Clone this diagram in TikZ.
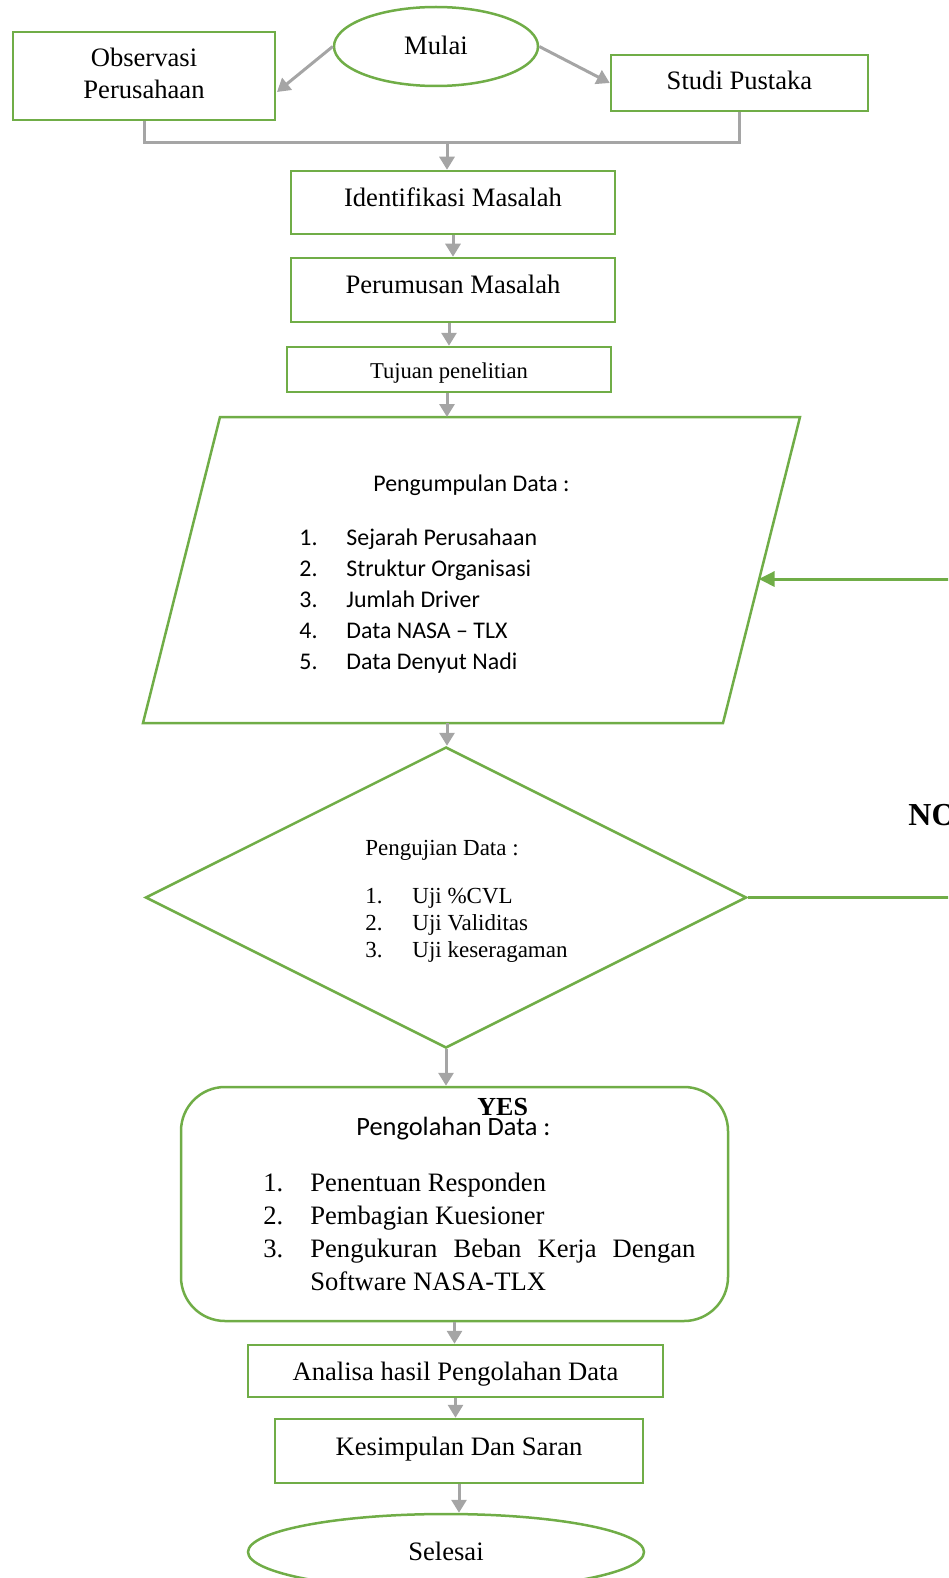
\documentclass[tikz,border=0pt]{standalone}
\usepackage{fontspec}
\setmainfont{Liberation Serif}
\newfontfamily\calfont{Carlito}
\usetikzlibrary{arrows.meta,shapes.geometric,calc}
\definecolor{gr}{HTML}{70AD47}
\definecolor{gy}{HTML}{A5A5A5}
\begin{document}
\begin{tikzpicture}[x=0.5pt,y=-0.5pt,
  tm/.style={font=\fontsize{13.3pt}{16pt}\selectfont},
  box/.style={draw=gr, line width=1.25pt, rectangle, inner sep=0pt, text height=9pt, tm},
  ell/.style={draw=gr, line width=1.25pt, ellipse, inner sep=0pt, text height=9pt, tm},
  shp/.style={draw=gr, line width=1.25pt, inner sep=0pt},
  txt/.style={inner sep=0pt, anchor=base west},
  gl/.style={draw=gy, line width=1.5pt},
  ga/.style={draw=gy, line width=1.5pt, -{Triangle[length=6.5pt,width=7.5pt]}},
  na/.style={draw=gr, line width=1.5pt, -{Triangle[length=8pt,width=7.5pt]}}]
\useasboundingbox (0,0) rectangle (948,1578);
\clip (0,0) rectangle (948,1578);

% top row
\node[ell, minimum width=102pt, minimum height=39.5pt, text depth=0.5pt] (mulai) at (436,46.5) {Mulai};
\node[box, minimum width=131pt, minimum height=44pt, text depth=18pt] (obs) at (144,76)
  {\begin{tabular}[t]{@{}c@{}}\fontsize{13.3pt}{16.5pt}\selectfont Observasi\\\fontsize{13.3pt}{16.5pt}\selectfont Perusahaan\end{tabular}};
\node[box, minimum width=128.5pt, minimum height=28pt, text depth=2pt] (studi) at (739.5,83) {Studi Pustaka};

\coordinate (oin) at (277,92);
\draw[ga] (mulai.west) -- (oin);
\draw[ga] (mulai.east) -- (studi.west);

% join
\coordinate (join) at (447,143);
\draw[gl] (obs.south) |- (join) -| (studi.south);

\node[box, minimum width=162pt, minimum height=31.5pt, text depth=5.5pt] (ident) at (453,202.5) {Identifikasi Masalah};
\node[box, minimum width=162pt, minimum height=32pt, text depth=6pt] (perum) at (453,290) {Perumusan Masalah};
\node[box, minimum width=162pt, minimum height=22.5pt, text depth=0.5pt, font=\fontsize{11.3pt}{14pt}\selectfont] (tujuan) at (449,369.5) {Tujuan penelitian};

\draw[ga] (join) -- (join |- ident.north);
\draw[ga] (ident.south) -- (ident.south |- perum.north);
\draw[ga] (tujuan.north |- perum.south) -- (tujuan.north);

% parallelogram
\coordinate (ptl) at (220,417);
\coordinate (ptr) at (800,417);
\coordinate (pbr) at (723,723);
\coordinate (pbl) at (143,723);
\draw[shp, line join=miter] (ptl) -- (ptr) -- (pbr) -- (pbl) -- cycle;
\coordinate (pin) at (447,417);
\coordinate (pout) at (447,723);
\coordinate (pr) at (758.6,579);
\draw[ga] (tujuan.south -| pin) -- (pin);

\node[txt, font=\calfont\fontsize{11.95pt}{15.5pt}\selectfont] (ptitle) at (373,491) {Pengumpulan Data :};
\node[txt, font=\calfont\fontsize{11.95pt}{15.5pt}\selectfont] (plist) at (299,545)
  {\begin{tabular}[t]{@{}p{23.5pt}@{}l@{}}1.&Sejarah Perusahaan\\2.&Struktur Organisasi\\3.&Jumlah Driver\\4.&Data NASA – TLX\\5.&Data Denyut Nadi\end{tabular}};

% diamond
\node[shp, diamond, minimum width=300.5pt, minimum height=150.5pt] (dia) at (446,897.5) {};
\draw[ga] (pout) -- (pout |- dia.north);
\node[txt, font=\fontsize{11.5pt}{13.5pt}\selectfont] (dtitle) at (365,855) {Pengujian Data :};
\node[txt, font=\fontsize{11.5pt}{13.5pt}\selectfont] (dlist) at (365,903)
  {\begin{tabular}[t]{@{}p{23.5pt}@{}l@{}}1.&Uji \%CVL\\2.&Uji Validitas\\3.&Uji keseragaman\end{tabular}};

% NO loop
\coordinate (noc) at (990,896);
\draw[na] (dia.east) -- (dia.east -| noc) |- (pr);
\node[txt, font=\bfseries\fontsize{16pt}{18pt}\selectfont] (no) at (908,825) {NO};

% processing
\node[shp, rectangle, rounded corners=22pt, minimum width=273.5pt, minimum height=117pt] (proc) at (454.5,1204) {};
\draw[ga] (dia.south) -- (dia.south |- proc.north);
\node[txt, font=\bfseries\fontsize{13pt}{15pt}\selectfont] (yes) at (477,1115) {YES};
\node[txt, font=\calfont\fontsize{13.2pt}{16pt}\selectfont] (prtitle) at (356,1135) {Pengolahan Data :};
\node[txt, font=\fontsize{13.3pt}{16.5pt}\selectfont] (prlist) at (263,1191)
  {\begin{tabular}[t]{@{}p{23.5pt}@{}l@{}}1.&Penentuan Responden\\2.&Pembagian Kuesioner\\3.&\makebox[192.5pt][s]{Pengukuran Beban Kerja Dengan}\\&Software NASA-TLX\end{tabular}};

% bottom
\node[box, minimum width=207.5pt, minimum height=26pt, text depth=0pt] (analisa) at (455.5,1371) {Analisa hasil Pengolahan Data};
\node[box, minimum width=184pt, minimum height=32pt, text depth=5pt] (kesim) at (459,1451) {Kesimpulan Dan Saran};
\node[ell, minimum width=198pt, minimum height=38pt, text depth=1pt] (sel) at (446,1552) {Selesai};

\draw[ga] (proc.south) -- (proc.south |- analisa.north);
\draw[ga] (analisa.south) -- (analisa.south |- kesim.north);
\draw[ga] (kesim.south) -- (kesim.south |- sel.north);
\end{tikzpicture}
\end{document}
